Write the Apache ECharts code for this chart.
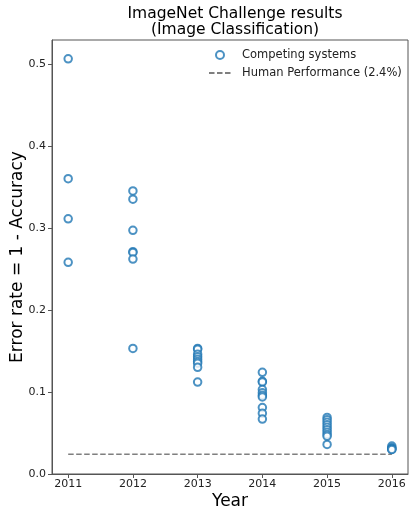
<!DOCTYPE html>
<html>
<head>
<meta charset="utf-8">
<script src="https://cdn.jsdelivr.net/npm/echarts@6/dist/echarts.min.js"></script>
<style>html,body{margin:0;padding:0;background:#fff;}#c{width:410px;height:509px;}</style>
</head>
<body>
<div id="c"></div>
<script>
const years = [2011, 2012, 2013, 2014, 2015, 2016];
const err2011 = [0.506, 0.360, 0.311, 0.258];
const err2012 = [0.345, 0.335, 0.297, 0.271, 0.270, 0.262, 0.153];
const err2013 = [0.153, 0.152, 0.146, 0.143, 0.140, 0.137, 0.135, 0.130, 0.112];
const err2014 = [0.124, 0.113, 0.112, 0.103, 0.099, 0.096, 0.094, 0.081, 0.074, 0.067];
const err2015 = [0.069, 0.066, 0.063, 0.060, 0.057, 0.054, 0.051, 0.048, 0.046, 0.036];
const err2016 = [0.034, 0.032, 0.031, 0.030, 0.030];
const humanError = 0.024;
const yTicks = [0, 0.1, 0.2, 0.3, 0.4, 0.5];

const groups = [err2011, err2012, err2013, err2014, err2015, err2016];
const scatterData = [];
groups.forEach((g, i) => g.forEach(v => scatterData.push([years[i], v])));

const font = 'DejaVu Sans';
const chart = echarts.init(document.getElementById('c'), null, {renderer: 'canvas'});
chart.setOption({
  backgroundColor: '#fff',
  animation: false,
  title: {
    text: 'ImageNet Challenge results\n(Image Classification)',
    left: 230, top: 1, textAlign: 'center',
    textStyle: {fontFamily: font, fontSize: 15.5, fontWeight: 'normal', color: '#000', lineHeight: 16}
  },
  legend: {
    orient: 'vertical', left: 203, top: 44, itemGap: 6,
    itemWidth: 22, itemHeight: 8,
    textStyle: {fontFamily: font, fontSize: 11.5, color: '#222', padding: [0, 0, 0, 6]},
    data: [
      {name: 'Competing systems'},
      {name: 'Human Performance (2.4%)', itemStyle: {color: 'rgba(0,0,0,0)', borderWidth: 0, opacity: 0}}
    ]
  },
  grid: {left: 52, right: 2, top: 40, bottom: 35, show: true, borderColor: '#555', borderWidth: 1, outerBoundsMode: 'none', containLabel: false},
  xAxis: {
    type: 'value', min: 2010.75, max: 2016.25,
    name: 'Year', nameLocation: 'middle', nameGap: 19, nameMoveOverlap: false,
    nameTextStyle: {fontFamily: font, fontSize: 17, color: '#000'},
    axisLine: {show: true, lineStyle: {color: '#555'}},
    axisTick: {show: true, length: 4, lineStyle: {color: '#555'}, customValues: years},
    axisLabel: {fontFamily: font, fontSize: 11, color: '#222', margin: 5, customValues: years, formatter: v => String(v)},
    splitLine: {show: false}
  },
  yAxis: {
    type: 'value', min: 0, max: 0.529,
    name: 'Error rate = 1 - Accuracy', nameLocation: 'middle', nameGap: 26, nameMoveOverlap: false,
    nameTextStyle: {fontFamily: font, fontSize: 17, color: '#000'},
    axisLine: {show: true, lineStyle: {color: '#555'}},
    axisTick: {show: true, length: 4, lineStyle: {color: '#555'}, customValues: yTicks},
    axisLabel: {fontFamily: font, fontSize: 11, color: '#222', margin: 6, customValues: yTicks, formatter: v => v.toFixed(1)},
    splitLine: {show: false}
  },
  series: [
    {
      name: 'Competing systems', type: 'scatter', data: scatterData,
      symbol: 'circle', symbolSize: 7.5,
      itemStyle: {color: '#fff', borderColor: '#1f77b4', borderWidth: 2},
      z: 3
    },
    {
      name: 'Human Performance (2.4%)', type: 'line',
      data: [[years[0], humanError], [years[years.length - 1], humanError]],
      symbol: 'none',
      lineStyle: {color: '#7f7f7f', width: 1.5, type: [5.5, 2.5]},
      itemStyle: {color: '#7f7f7f'},
      z: 2
    }
  ]
});
</script>
</body>
</html>
